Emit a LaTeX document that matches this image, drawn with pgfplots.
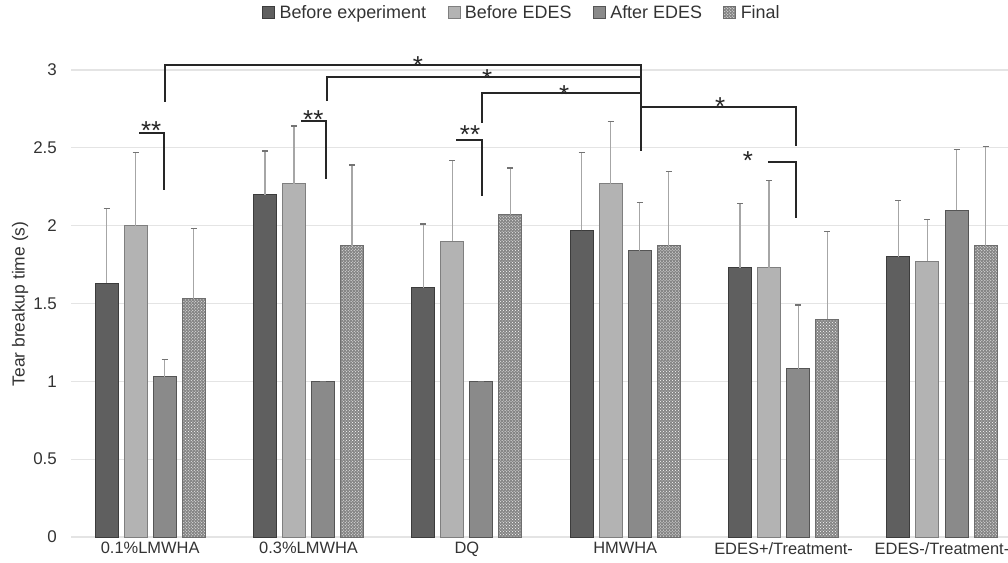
\documentclass[border=0pt]{standalone}
\usepackage{pgfplots}
\pgfplotsset{compat=1.18}
\usepackage{pgfplotstable}
\usetikzlibrary{patterns}
\usepackage{fontspec}
\setmainfont{Liberation Sans}
\definecolor{cA}{HTML}{5F5F5F}
\definecolor{cAe}{HTML}{3C3C3C}
\definecolor{cB}{HTML}{B3B3B3}
\definecolor{cBe}{HTML}{7F7F7F}
\definecolor{cC}{HTML}{8A8A8A}
\definecolor{cCe}{HTML}{555555}
\definecolor{cD}{HTML}{858585}
\definecolor{cDe}{HTML}{6E6E6E}
\definecolor{txt}{HTML}{333333}
\definecolor{gridc}{HTML}{E4E4E4}

% x: group index, v: value, e: upper error
\pgfplotstableread{
x v e
0 1.63 0.48
1 2.20 0.28
2 1.60 0.41
3 1.97 0.50
4 1.73 0.41
5 1.80 0.36
}\tBE
\pgfplotstableread{
x v e
0 2.00 0.47
1 2.27 0.37
2 1.90 0.52
3 2.27 0.40
4 1.73 0.56
5 1.77 0.27
}\tBEDES
\pgfplotstableread{
x v e
0 1.03 0.11
1 1.00 0.00
2 1.00 0.00
3 1.84 0.31
4 1.08 0.41
5 2.10 0.39
}\tAEDES
\pgfplotstableread{
x v e
0 1.53 0.45
1 1.87 0.52
2 2.07 0.30
3 1.87 0.48
4 1.40 0.56
5 1.87 0.64
}\tF

\begin{document}
\begin{tikzpicture}
\useasboundingbox (0,0) rectangle (1008bp,563bp);
\begin{axis}[
  at={(71bp,26bp)}, anchor=south west,
  scale only axis, width=937bp, height=482.6bp,
  xmin=-0.5, xmax=5.417, ymin=0, ymax=3.1,
  clip=false,
  axis line style={draw=none},
  major tick length=0pt,
  ytick={0,0.5,1,1.5,2,2.5,3},
  ymajorgrids, grid style={gridc, line width=1.3bp},
  xtick={0,1,2,3,4,5},
  xticklabels={0.1\%LMWHA,0.3\%LMWHA,DQ,HMWHA,EDES+/Treatment-,EDES-/Treatment-},
  /pgf/number format/assume math mode=true,
  yticklabel style={font=\fontsize{17}{20}\selectfont, text=txt, anchor=east, inner sep=0pt, xshift=-14bp},
  xticklabel style={font=\fontsize{16.5}{19}\selectfont, text=txt, anchor=north, inner sep=0pt, yshift=-5bp},
  ybar, bar width=0.145,
  error bars/y dir=plus, error bars/y explicit,
  error bars/error bar style={color=black!35, line width=1.2bp},
  error bars/error mark options={rotate=90, mark size=3bp, color=black!55, line width=1.2bp},
  legend columns=4,
  legend style={at={(0.481,1.086)}, anchor=center, draw=none, fill=none,
    font=\fontsize{18}{21}\selectfont, text=txt, inner sep=0pt,
    nodes={inner sep=1.5bp},
    /tikz/every even column/.append style={column sep=20bp}},
  legend image code/.code={\draw[#1, line width=0.8bp] (0bp,-6bp) rectangle (12bp,6bp);},
]
\addplot[fill=cA, draw=cAe, line width=1bp, bar shift=-0.275] table[x=x, y=v, y error=e]{\tBE};
\addlegendentry{\,Before experiment}
\addplot[fill=cB, draw=cBe, line width=1bp, bar shift=-0.092] table[x=x, y=v, y error=e]{\tBEDES};
\addlegendentry{\,Before EDES}
\addplot[fill=cC, draw=cCe, line width=1bp, bar shift=0.092] table[x=x, y=v, y error=e]{\tAEDES};
\addlegendentry{\,After EDES}
\addplot[fill=cD, draw=cDe, line width=1bp, bar shift=0.275, postaction={pattern=crosshatch dots, pattern color=white}] table[x=x, y=v, y error=e]{\tF};
\addlegendentry{\,Final}

% significance brackets
\begin{scope}[line width=1.8bp, black!85]
\draw (axis cs:0.095,2.795) -- (axis cs:0.095,3.032) -- (axis cs:3.10,3.032) -- (axis cs:3.10,2.48);
\draw (axis cs:1.117,2.80) -- (axis cs:1.117,2.955) -- (axis cs:3.10,2.955);
\draw (axis cs:2.096,2.66) -- (axis cs:2.096,2.852) -- (axis cs:3.10,2.852);
\draw (axis cs:3.10,2.762) -- (axis cs:4.078,2.762) -- (axis cs:4.078,2.512);
\draw (axis cs:3.90,2.409) -- (axis cs:4.078,2.409) -- (axis cs:4.078,2.049);
\draw (axis cs:-0.069,2.595) -- (axis cs:0.088,2.595) -- (axis cs:0.088,2.229);
\draw (axis cs:0.953,2.672) -- (axis cs:1.111,2.672) -- (axis cs:1.111,2.30);
\draw (axis cs:1.932,2.55) -- (axis cs:2.096,2.55) -- (axis cs:2.096,2.19);
\end{scope}
\begin{scope}[every node/.style={font=\fontsize{26}{27}\selectfont, inner sep=0pt, anchor=center, yshift=-6bp, text=black!85}]
\node at (axis cs:1.69,3.064) {*};
\node at (axis cs:2.128,2.981) {*};
\node at (axis cs:2.614,2.878) {*};
\node at (axis cs:3.60,2.801) {*};
\node at (axis cs:3.775,2.454) {*};
\node at (axis cs:0.006,2.647) {**};
\node at (axis cs:1.03,2.717) {**};
\node at (axis cs:2.02,2.621) {**};
\end{scope}
\end{axis}
\node[font=\fontsize{17.5}{20}\selectfont, text=txt, rotate=90, anchor=center] at (20bp,259bp) {Tear breakup time (s)};
\end{tikzpicture}
\end{document}
